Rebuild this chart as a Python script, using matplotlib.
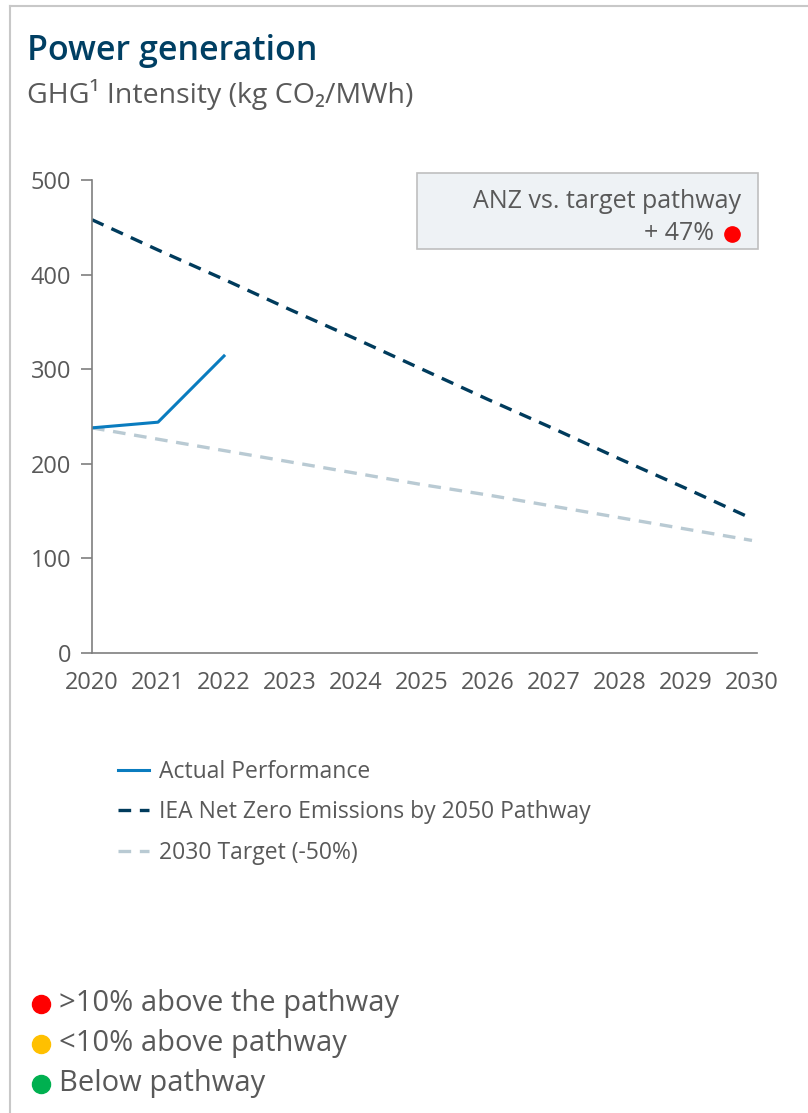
"""Power generation GHG intensity chart."""
import matplotlib
matplotlib.use('Agg')
import matplotlib.pyplot as plt
from matplotlib.lines import Line2D
from matplotlib.patches import Rectangle

# ── Data ──────────────────────────────────────────────────
years = [2020, 2021, 2022, 2023, 2024, 2025, 2026, 2027, 2028, 2029, 2030]
actual_years = [2020, 2021, 2022]
actual = [238, 244, 314]
iea = [458, 426, 395, 363, 332, 300, 268, 237, 205, 174, 142]
target = [238, 226, 214, 202, 190, 178, 167, 155, 143, 131, 119]
y_ticks = [0, 100, 200, 300, 400, 500]
series_labels = ['Actual Performance',
                 'IEA Net Zero Emissions by 2050 Pathway',
                 '2030 Target (-50%)']
status_labels = ['>10% above the pathway', '<10% above pathway', 'Below pathway']
status_colors = ['#ff0000', '#ffc000', '#00b050']

# ── Palette ───────────────────────────────────────────────
C_TITLE = '#003f63'
C_TEXT = '#595959'
C_ACTUAL = '#0a7cbf'
C_IEA = '#003b5c'
C_TARGET = '#b9cad3'
C_FRAME = '#c8c8c8'

plt.rcParams['font.family'] = ['Open Sans', 'DejaVu Sans']

W, H = 808, 1113
fig = plt.figure(figsize=(W / 100, H / 100), dpi=100)
fig.patch.set_facecolor('white')

# outer frame (left and top edges visible)
fig.add_artist(Line2D([10 / W, 10 / W], [0, 1 - 6 / H], transform=fig.transFigure,
                      color=C_FRAME, lw=1.5))
fig.add_artist(Line2D([10 / W, 1], [1 - 6 / H, 1 - 6 / H], transform=fig.transFigure,
                      color=C_FRAME, lw=1.5))

# ── Title ─────────────────────────────────────────────────
fig.text(27 / W, 1 - 51 / H, 'Power generation', fontsize=24.5, fontweight='semibold',
         color=C_TITLE, ha='left', va='center')
fig.text(27 / W, 1 - 95 / H, 'GHG\u00b9 Intensity (kg CO\u2082/MWh)', fontsize=20.5,
         color=C_TEXT, ha='left', va='center')

# ── Axes ──────────────────────────────────────────────────
ax = fig.add_axes([92 / W, 1 - 653 / H, (757 - 92) / W, (653 - 180) / H])
ax.plot(years, target, color=C_TARGET, lw=2.4, dashes=(3.8, 2.6), label=series_labels[2])
ax.plot(years, iea, color=C_IEA, lw=2.4, dashes=(3.8, 2.6), label=series_labels[1])
ax.plot(actual_years, actual, color=C_ACTUAL, lw=2.2, label=series_labels[0])

ax.set_xlim(2020, 2030 + 5 / 66)
ax.set_ylim(0, 500)
ax.set_yticks(y_ticks)
ax.set_xticks(years)
ax.set_xticklabels([str(y) for y in years])
for s in ['top', 'right']:
    ax.spines[s].set_visible(False)
for s in ['left', 'bottom']:
    ax.spines[s].set_color('#7f7f7f')
    ax.spines[s].set_linewidth(1.2)
ax.tick_params(axis='y', length=8, width=1.2, color='#7f7f7f', pad=7,
               labelsize=17, labelcolor=C_TEXT)
ax.tick_params(axis='x', length=0, pad=13, labelsize=17, labelcolor=C_TEXT)

# ── Annotation box ────────────────────────────────────────
fig.add_artist(Rectangle((417 / W, 1 - 249 / H), (758 - 417) / W, (249 - 173) / H,
                         transform=fig.transFigure, facecolor='#eef2f5',
                         edgecolor='#bfbfbf', lw=1.2))
fig.text(741 / W, 1 - 201 / H, 'ANZ vs. target pathway', fontsize=18,
         color=C_TEXT, ha='right', va='center')
fig.text(714 / W, 1 - 234 / H, '+ 47%', fontsize=18,
         color=C_TEXT, ha='right', va='center')
fig.add_artist(Line2D([732 / W], [1 - 234 / H], transform=fig.transFigure,
                      marker='o', markersize=11, color='#ff0000', lw=0))

# ── Series legend ─────────────────────────────────────────
handles, labels = ax.get_legend_handles_labels()
order = [2, 1, 0]
leg = fig.legend([handles[i] for i in order], [labels[i] for i in order],
                 loc='upper left', bbox_to_anchor=(118 / W, 1 - 760 / H),
                 frameon=False, fontsize=16.5, handlelength=1.35, handletextpad=0.45,
                 labelspacing=0.72, borderpad=0, borderaxespad=0,
                 labelcolor=C_TEXT)

# ── Status key ────────────────────────────────────────────
for i, (lbl, col) in enumerate(zip(status_labels, status_colors)):
    yy = 1 - (1004 + i * 40) / H
    fig.add_artist(Line2D([41 / W], [yy], transform=fig.transFigure,
                          marker='o', markersize=13, color=col, lw=0))
    fig.text(59 / W, yy, lbl, fontsize=21, color=C_TEXT, ha='left', va='center')

fig.savefig('out.png', dpi=100, facecolor='white')
